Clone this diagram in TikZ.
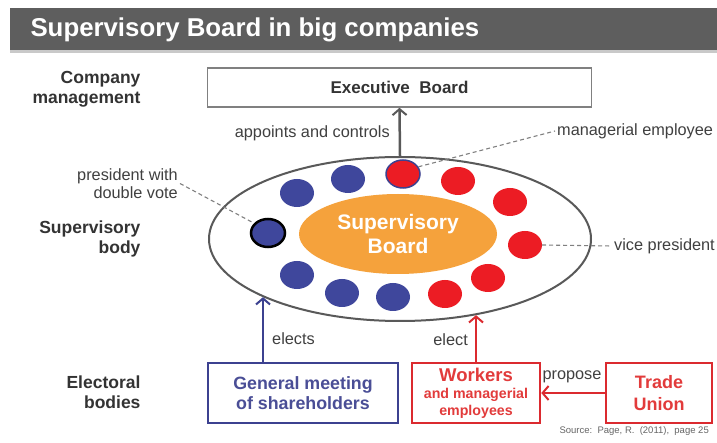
\documentclass[tikz,border=0pt]{standalone}
\usepackage{fontspec}
\setmainfont{Liberation Sans}
\usetikzlibrary{arrows.meta,shapes.geometric}

\definecolor{barGray}{HTML}{5E5E5E}
\definecolor{barLine}{HTML}{C9C9C9}
\definecolor{labelInk}{HTML}{333333}
\definecolor{noteInk}{HTML}{404040}
\definecolor{ringGray}{HTML}{595959}
\definecolor{boxGray}{HTML}{808080}
\definecolor{boardOrange}{HTML}{F5A23C}
\definecolor{seatBlue}{HTML}{3F479C}
\definecolor{seatRed}{HTML}{EC1C24}
\definecolor{bodyBlue}{HTML}{3C4190}
\definecolor{bodyBlueText}{HTML}{4A4E96}
\definecolor{bodyRed}{HTML}{DB2A2F}
\definecolor{bodyRedText}{HTML}{E23B3B}

\begin{document}
\begin{tikzpicture}[x=1pt,y=-1pt,
  sidelabel/.style={anchor=east,align=right,text=labelInk,
    font=\fontsize{17.5}{20.5}\selectfont\bfseries},
  note/.style={text=noteInk,font=\fontsize{16.3}{17.5}\selectfont,inner sep=2pt},
  seat/.style={ellipse,minimum width=34,minimum height=28,inner sep=0},
  blueseat/.style={seat,fill=seatBlue},
  redseat/.style={seat,fill=seatRed},
  leader/.style={dashed,draw=gray,line width=1.1,dash pattern=on 4pt off 3pt},
  flow/.style={line width=2.5,-{Straight Barb[length=6pt,width=14pt,line width=2pt]}},
  bodybox/.style={draw,line width=2.5,minimum height=60,inner sep=0,align=center}]

\clip (0,0) rectangle (717,443);
\fill[white] (0,0) rectangle (717,443);

% title bar
\fill[barGray] (10,8) rectangle (717,50);
\fill[barLine] (10,50) rectangle (717,53);
\node[anchor=west,text=white,font=\fontsize{25.8}{29}\selectfont\bfseries] (title) at (27,30)
  {Supervisory Board in big companies};

% row labels
\node[sidelabel] (lblMgmt) at (144,89) {Company\\management};
\node[sidelabel] (lblSup) at (144,239) {Supervisory\\body};
\node[sidelabel] (lblElect) at (144,392) {Electoral\\bodies};

% executive board
\node[draw=boxGray,line width=1.6,minimum width=384,minimum height=39,inner sep=0,
  text=labelInk,font=\fontsize{17}{19}\selectfont\bfseries] (exec) at (399.5,87.5)
  {Executive\ \ Board};

% supervisory body
\node[ellipse,draw=ringGray,line width=2,minimum width=382,minimum height=164,inner sep=0]
  (ring) at (400,239) {};
\node[ellipse,fill=boardOrange,minimum width=198,minimum height=80,inner sep=0,
  text=white,align=center,font=\fontsize{21}{24.5}\selectfont\bfseries] (board) at (398,234)
  {Supervisory\\Board};

% seats
\node[blueseat] (s1) at (297,193) {};
\node[blueseat] (s2) at (348,179) {};
\node[redseat,draw=bodyBlue,line width=1.5] (s3) at (403,174) {};
\node[redseat] (s4) at (458,181) {};
\node[redseat] (s5) at (510,202) {};
\node[redseat] (s6) at (525,245) {};
\node[redseat] (s7) at (488,278) {};
\node[redseat] (s8) at (445,294) {};
\node[blueseat] (s9) at (393,297) {};
\node[blueseat] (s10) at (342,293) {};
\node[blueseat] (s11) at (297,275) {};
\node[blueseat,draw=black,line width=2.5] (pres) at (268,233) {};

% annotations
\node[note,anchor=east,align=right] (presNote) at (180,183.5) {president with\\double vote};
\draw[leader] (presNote.east) -- (pres.145);
\node[note,anchor=west] (mgrNote) at (555,131) {managerial employee};
\draw[leader] (s3.25) -- (mgrNote.west);
\node[note,anchor=west] (vpNote) at (612,246) {vice president};
\draw[leader] (s6.east) -- (vpNote.west);

% appoints and controls
\draw[flow,draw=ringGray] (ring.north) -- (exec.south);
\node[note,anchor=east] (appoints) at (392,133) {appoints and controls};

% electoral bodies
\node[bodybox,draw=bodyBlue,minimum width=190,text=bodyBlueText,
  font=\fontsize{17.8}{20}\selectfont\bfseries] (gm) at (303,393)
  {General meeting\\of shareholders};
\node[bodybox,draw=bodyRed,minimum width=128,text=bodyRedText,
  font=\fontsize{14.2}{17}\selectfont\bfseries] (wk) at (476,393)
  {{\fontsize{18.5}{20}\selectfont Workers}\\and managerial\\employees};
\node[bodybox,draw=bodyRed,minimum width=106,text=bodyRedText,
  font=\fontsize{18}{22}\selectfont\bfseries] (tu) at (659,393)
  {Trade\\Union};

\draw[flow,draw=bodyBlue] (ring.203.25 |- gm.north) -- (ring.203.25);
\node[note,anchor=west] (elects) at (270,339) {elects};
\draw[flow,draw=bodyRed] (wk.north) -- (wk.north |- ring.315.3);
\node[note,anchor=east] (elect) at (470,340) {elect};
\draw[flow,draw=bodyRed] (tu.west) -- (wk.east);
\node[note,anchor=center] (propose) at (572,377) {propose};

% source line
\node[anchor=east,text=gray!80!black,font=\fontsize{9.5}{11}\selectfont,inner sep=0]
  (source) at (709,431) {Source:\ \ Page, R.\ \ (2011),\ \ page 25};
\end{tikzpicture}
\end{document}
